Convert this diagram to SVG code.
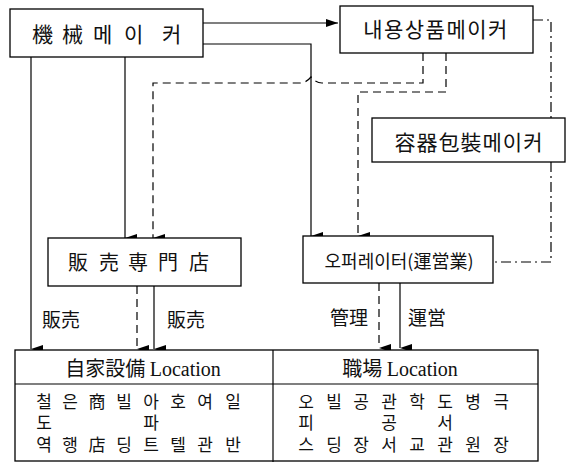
<svg xmlns="http://www.w3.org/2000/svg" width="571" height="462" viewBox="0 0 571 462">
<defs>
<marker id="ah" viewBox="0 0 8 12" refX="4" refY="12" markerWidth="8" markerHeight="12" markerUnits="userSpaceOnUse" orient="auto-start-reverse">
<path d="M0,0 L8,0 L4,12 Z" fill="#000"/>
</marker>
<marker id="ahr" viewBox="0 0 12 8" refX="12" refY="4" markerWidth="12" markerHeight="8" markerUnits="userSpaceOnUse" orient="0">
<path d="M0,0 L12,4 L0,8 Z" fill="#000"/>
</marker>
<style>
.box{fill:#fff;stroke:#000;stroke-width:1.3}
.t{font-family:"Noto Sans CJK KR","Noto Sans CJK JP",sans-serif;fill:#111}
.lat{font-family:"Liberation Serif",serif}
.c{fill:none;stroke:#000;stroke-width:1.2}
.d{stroke-dasharray:8,5}
.dd{stroke-dasharray:10,4,2,4}
</style>
</defs>
<g id="connectors">
<path class="c" d="M203,23 H338" marker-end="url(#ahr)"/>
<path class="c" d="M203,44 H311 V236" marker-end="url(#ah)"/>
<path class="c" d="M31,57 V349" marker-end="url(#ah)"/>
<path class="c" d="M125,57 V238" marker-end="url(#ah)"/>
<path class="c d" d="M423,53 V83 H322 Q316,83 311,77 Q306,83 300,83 H153 V238" marker-end="url(#ah)"/>
<path class="c d" d="M446,53 V92 H358 V236" marker-end="url(#ah)"/>
<path class="c dd" d="M533,20 H551 V118"/>
<path class="c dd" d="M551,162 V262 H493"/>
<path class="c d" d="M137,286 V349" marker-end="url(#ah)"/>
<path class="c" d="M154,286 V349" marker-end="url(#ah)"/>
<path class="c d" d="M379,283 V348" marker-end="url(#ah)"/>
<path class="c" d="M400,283 V348" marker-end="url(#ah)"/>
<text class="t" x="42" y="327" font-size="19">販売</text>
<text class="t" x="167" y="327" font-size="19">販売</text>
<text class="t" x="330" y="325" font-size="19">管理</text>
<text class="t" x="408" y="325" font-size="19">運営</text>
</g>
<g id="machine-maker">
<rect class="box" x="10" y="9" width="193" height="48"/>
<text class="t" font-size="21" y="42"><tspan x="32">機</tspan><tspan x="62">械</tspan><tspan x="93">메</tspan><tspan x="124">이</tspan><tspan x="162">커</tspan></text>
</g>
<g id="content-maker">
<rect class="box" x="340" y="6" width="193" height="47"/>
<text class="t" font-size="21" x="436" y="37" text-anchor="middle" letter-spacing="1.5">내용상품메이커</text>
</g>
<g id="container-maker">
<rect class="box" x="372" y="118" width="193" height="44"/>
<text class="t" font-size="21" x="469" y="150" text-anchor="middle" letter-spacing="1">容器包裝메이커</text>
</g>
<g id="dealer">
<rect class="box" x="48" y="238" width="193" height="48"/>
<text class="t" font-size="20" y="270"><tspan x="68">販</tspan><tspan x="99">売</tspan><tspan x="128">専</tspan><tspan x="158">門</tspan><tspan x="189">店</tspan></text>
</g>
<g id="operator">
<rect class="box" x="303" y="236" width="190" height="47"/>
<text class="t" font-size="18" x="399" y="268" text-anchor="middle">오퍼레이터(運営業)</text>
</g>
<g id="location-table">
<rect class="box" x="15" y="350" width="523" height="111"/>
<line class="c" x1="273" y1="350" x2="273" y2="462"/>
<line class="c" x1="15" y1="384" x2="538" y2="384"/>
<text class="t" font-size="20" x="143" y="376" text-anchor="middle">自家設備 <tspan class="lat">Location</tspan></text>
<text class="t" font-size="20" x="400" y="376" text-anchor="middle">職場 <tspan class="lat">Location</tspan></text>
<g class="t" font-size="17" text-anchor="middle">
<text y="408"><tspan x="44">철</tspan><tspan x="70">은</tspan><tspan x="97">商</tspan><tspan x="124">빌</tspan><tspan x="151">아</tspan><tspan x="178">호</tspan><tspan x="205">여</tspan><tspan x="233">일</tspan></text>
<text y="429"><tspan x="44">도</tspan><tspan x="151">파</tspan></text>
<text y="451"><tspan x="44">역</tspan><tspan x="70">행</tspan><tspan x="97">店</tspan><tspan x="124">딩</tspan><tspan x="151">트</tspan><tspan x="178">텔</tspan><tspan x="205">관</tspan><tspan x="233">반</tspan></text>
<text y="408"><tspan x="306">오</tspan><tspan x="334">빌</tspan><tspan x="361">공</tspan><tspan x="389">관</tspan><tspan x="417">학</tspan><tspan x="445">도</tspan><tspan x="473">병</tspan><tspan x="501">극</tspan></text>
<text y="429"><tspan x="306">피</tspan><tspan x="389">공</tspan><tspan x="445">서</tspan></text>
<text y="451"><tspan x="306">스</tspan><tspan x="334">딩</tspan><tspan x="361">장</tspan><tspan x="389">서</tspan><tspan x="417">교</tspan><tspan x="445">관</tspan><tspan x="473">원</tspan><tspan x="501">장</tspan></text>
</g>
</g>
</svg>
